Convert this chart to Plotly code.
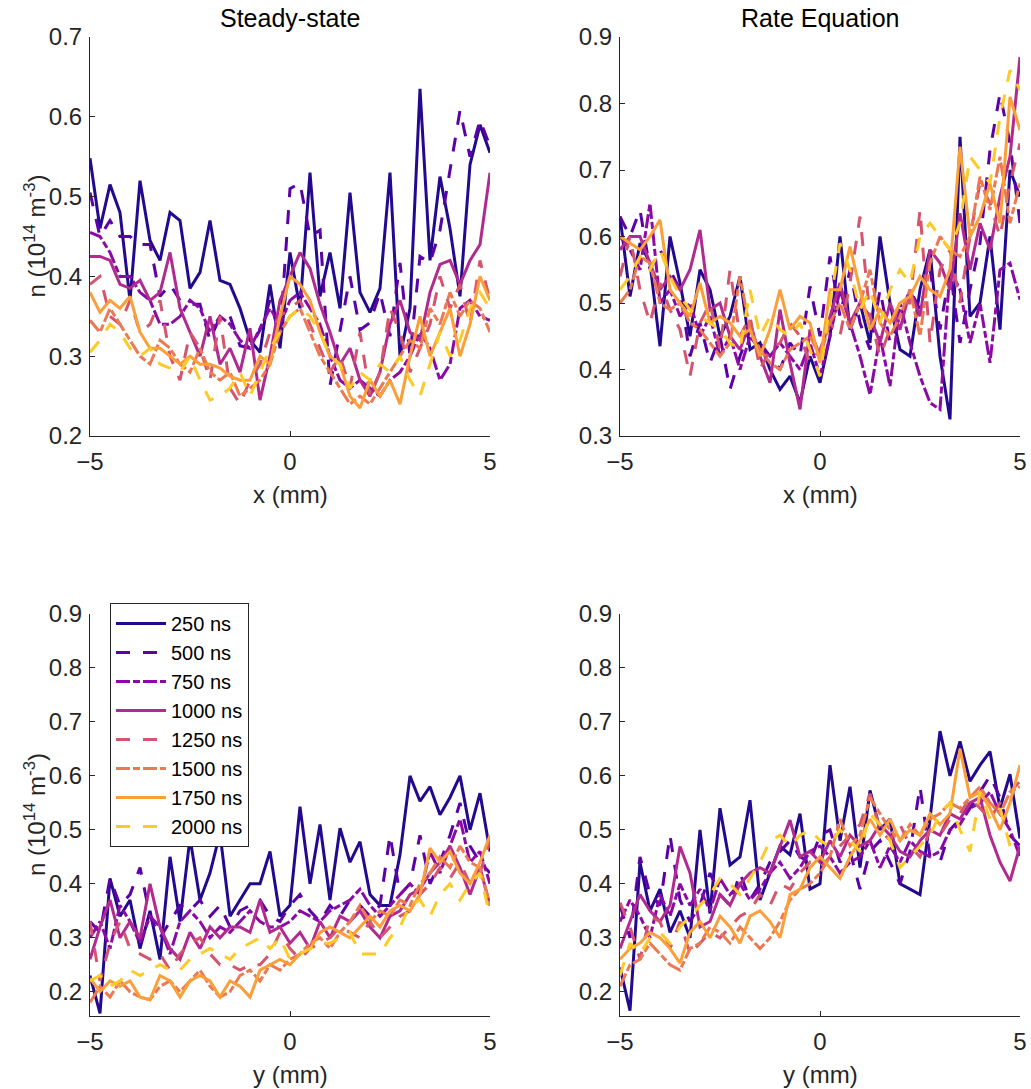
import plotly.graph_objects as go

# ---------------- data ----------------
pos = [-5 + 0.25 * i for i in range(41)]
labels = ["250 ns", "500 ns", "750 ns", "1000 ns", "1250 ns", "1500 ns", "1750 ns", "2000 ns"]
colors = ["#23098e", "#5c01a6", "#8b0aa5", "#b12a90", "#d5546e", "#ed7953", "#fb9f3a", "#fdca26"]
dashes = ["solid", "14px,13px", "14px,3px,7px,3px", "solid", "14px,13px", "14px,3px,7px,3px", "solid", "14px,13px"]

# Steady-state, x profile
ss_x_250 = [0.548, 0.46, 0.515, 0.48, 0.37, 0.52, 0.445, 0.42, 0.48, 0.47, 0.385, 0.405, 0.47, 0.395, 0.39, 0.36, 0.32, 0.305, 0.39, 0.31, 0.43, 0.36, 0.53, 0.375, 0.43, 0.36, 0.505, 0.38, 0.355, 0.385, 0.53, 0.30, 0.36, 0.635, 0.42, 0.525, 0.46, 0.375, 0.54, 0.59, 0.555]
ss_x_500 = [0.505, 0.45, 0.47, 0.45, 0.45, 0.44, 0.44, 0.375, 0.39, 0.37, 0.365, 0.365, 0.32, 0.35, 0.35, 0.313, 0.31, 0.333, 0.37, 0.325, 0.51, 0.517, 0.45, 0.458, 0.263, 0.333, 0.40, 0.333, 0.342, 0.38, 0.325, 0.417, 0.30, 0.425, 0.417, 0.458, 0.534, 0.608, 0.55, 0.596, 0.563]
ss_x_750 = [0.455, 0.45, 0.43, 0.40, 0.40, 0.38, 0.37, 0.34, 0.34, 0.35, 0.37, 0.36, 0.33, 0.35, 0.34, 0.32, 0.31, 0.335, 0.36, 0.34, 0.37, 0.38, 0.36, 0.34, 0.30, 0.27, 0.26, 0.27, 0.26, 0.25, 0.27, 0.28, 0.30, 0.33, 0.31, 0.27, 0.29, 0.36, 0.37, 0.35, 0.345]
ss_x_1000 = [0.425, 0.425, 0.42, 0.39, 0.385, 0.395, 0.37, 0.38, 0.43, 0.36, 0.33, 0.30, 0.35, 0.29, 0.31, 0.28, 0.335, 0.245, 0.30, 0.37, 0.40, 0.43, 0.41, 0.365, 0.33, 0.29, 0.31, 0.27, 0.25, 0.28, 0.34, 0.37, 0.33, 0.32, 0.38, 0.415, 0.42, 0.39, 0.42, 0.44, 0.53]
ss_x_1250 = [0.39, 0.40, 0.35, 0.34, 0.37, 0.33, 0.34, 0.37, 0.30, 0.27, 0.33, 0.31, 0.27, 0.35, 0.26, 0.24, 0.27, 0.29, 0.33, 0.35, 0.36, 0.37, 0.34, 0.31, 0.28, 0.30, 0.26, 0.33, 0.25, 0.28, 0.36, 0.33, 0.28, 0.31, 0.34, 0.40, 0.36, 0.39, 0.34, 0.42, 0.37]
ss_x_1500 = [0.345, 0.33, 0.36, 0.34, 0.32, 0.30, 0.29, 0.32, 0.31, 0.29, 0.28, 0.31, 0.28, 0.27, 0.28, 0.25, 0.26, 0.27, 0.29, 0.33, 0.35, 0.36, 0.33, 0.30, 0.28, 0.26, 0.24, 0.25, 0.24, 0.26, 0.28, 0.30, 0.32, 0.31, 0.36, 0.34, 0.38, 0.35, 0.37, 0.36, 0.33]
ss_x_1750 = [0.38, 0.355, 0.37, 0.36, 0.375, 0.33, 0.31, 0.31, 0.30, 0.29, 0.30, 0.29, 0.29, 0.285, 0.275, 0.27, 0.27, 0.30, 0.29, 0.35, 0.40, 0.39, 0.37, 0.33, 0.30, 0.29, 0.25, 0.235, 0.27, 0.25, 0.27, 0.24, 0.30, 0.35, 0.30, 0.33, 0.36, 0.30, 0.34, 0.40, 0.37]
ss_x_2000 = [0.305, 0.32, 0.34, 0.33, 0.31, 0.30, 0.31, 0.29, 0.285, 0.28, 0.30, 0.27, 0.245, 0.25, 0.26, 0.28, 0.25, 0.28, 0.31, 0.33, 0.35, 0.36, 0.35, 0.33, 0.30, 0.29, 0.26, 0.28, 0.27, 0.29, 0.28, 0.30, 0.27, 0.25, 0.29, 0.33, 0.30, 0.32, 0.36, 0.38, 0.36]

# Rate equation, x profile
re_x_250 = [0.63, 0.51, 0.59, 0.56, 0.435, 0.60, 0.53, 0.45, 0.55, 0.52, 0.45, 0.48, 0.54, 0.43, 0.44, 0.40, 0.37, 0.39, 0.35, 0.42, 0.38, 0.45, 0.60, 0.46, 0.50, 0.44, 0.60, 0.50, 0.43, 0.42, 0.52, 0.58, 0.42, 0.325, 0.75, 0.48, 0.50, 0.60, 0.46, 0.70, 0.66]
re_x_500 = [0.63, 0.60, 0.64, 0.55, 0.58, 0.55, 0.52, 0.42, 0.47, 0.41, 0.45, 0.37, 0.42, 0.46, 0.44, 0.42, 0.40, 0.44, 0.42, 0.525, 0.45, 0.57, 0.48, 0.55, 0.47, 0.43, 0.52, 0.44, 0.48, 0.52, 0.49, 0.55, 0.46, 0.55, 0.44, 0.52, 0.59, 0.73, 0.815, 0.74, 0.62]
re_x_750 = [0.60, 0.58, 0.55, 0.65, 0.50, 0.52, 0.48, 0.50, 0.45, 0.48, 0.42, 0.45, 0.40, 0.45, 0.43, 0.42, 0.44, 0.42, 0.40, 0.44, 0.39, 0.45, 0.52, 0.47, 0.42, 0.362, 0.45, 0.375, 0.50, 0.44, 0.39, 0.35, 0.34, 0.55, 0.52, 0.44, 0.50, 0.41, 0.55, 0.56, 0.505]
re_x_1000 = [0.58, 0.60, 0.60, 0.56, 0.52, 0.54, 0.52, 0.55, 0.61, 0.49, 0.50, 0.45, 0.43, 0.47, 0.42, 0.38, 0.49, 0.41, 0.34, 0.46, 0.42, 0.48, 0.53, 0.47, 0.50, 0.48, 0.44, 0.50, 0.46, 0.52, 0.48, 0.58, 0.56, 0.52, 0.635, 0.55, 0.62, 0.58, 0.66, 0.72, 0.87]
re_x_1250 = [0.54, 0.60, 0.52, 0.47, 0.53, 0.49, 0.46, 0.39, 0.47, 0.50, 0.43, 0.55, 0.45, 0.48, 0.40, 0.43, 0.44, 0.47, 0.45, 0.41, 0.43, 0.47, 0.45, 0.53, 0.63, 0.48, 0.42, 0.46, 0.50, 0.50, 0.64, 0.44, 0.55, 0.58, 0.50, 0.60, 0.68, 0.65, 0.60, 0.68, 0.74]
re_x_1500 = [0.50, 0.52, 0.57, 0.56, 0.50, 0.49, 0.50, 0.47, 0.46, 0.44, 0.42, 0.44, 0.54, 0.46, 0.43, 0.41, 0.40, 0.43, 0.44, 0.45, 0.42, 0.47, 0.50, 0.46, 0.50, 0.55, 0.47, 0.45, 0.48, 0.52, 0.45, 0.56, 0.60, 0.58, 0.57, 0.60, 0.69, 0.64, 0.72, 0.62, 0.68]
re_x_1750 = [0.60, 0.59, 0.58, 0.60, 0.625, 0.52, 0.50, 0.48, 0.53, 0.47, 0.48, 0.47, 0.45, 0.46, 0.42, 0.46, 0.52, 0.46, 0.48, 0.47, 0.41, 0.52, 0.52, 0.585, 0.52, 0.46, 0.49, 0.47, 0.50, 0.51, 0.54, 0.52, 0.51, 0.55, 0.735, 0.60, 0.63, 0.68, 0.62, 0.81, 0.76]
re_x_2000 = [0.52, 0.54, 0.57, 0.55, 0.58, 0.54, 0.51, 0.49, 0.48, 0.47, 0.46, 0.44, 0.43, 0.52, 0.45, 0.48, 0.46, 0.45, 0.47, 0.43, 0.39, 0.50, 0.59, 0.55, 0.49, 0.52, 0.47, 0.52, 0.55, 0.53, 0.60, 0.62, 0.60, 0.58, 0.62, 0.72, 0.70, 0.68, 0.78, 0.85, 0.82]

# Steady-state, y profile
ss_y_250 = [0.23, 0.16, 0.41, 0.34, 0.37, 0.28, 0.35, 0.26, 0.45, 0.33, 0.485, 0.37, 0.42, 0.494, 0.34, 0.37, 0.40, 0.40, 0.46, 0.34, 0.36, 0.543, 0.40, 0.51, 0.37, 0.503, 0.44, 0.478, 0.38, 0.36, 0.36, 0.454, 0.60, 0.553, 0.58, 0.528, 0.56, 0.60, 0.50, 0.568, 0.46]
ss_y_500 = [0.33, 0.31, 0.41, 0.36, 0.38, 0.43, 0.34, 0.30, 0.33, 0.36, 0.35, 0.37, 0.34, 0.36, 0.32, 0.35, 0.36, 0.37, 0.34, 0.33, 0.36, 0.38, 0.35, 0.33, 0.36, 0.34, 0.37, 0.36, 0.34, 0.36, 0.49, 0.38, 0.40, 0.49, 0.40, 0.44, 0.49, 0.55, 0.47, 0.44, 0.42]
ss_y_750 = [0.30, 0.33, 0.28, 0.36, 0.33, 0.29, 0.34, 0.32, 0.27, 0.33, 0.35, 0.33, 0.30, 0.32, 0.31, 0.33, 0.35, 0.33, 0.32, 0.32, 0.33, 0.35, 0.34, 0.33, 0.35, 0.36, 0.37, 0.39, 0.36, 0.34, 0.36, 0.38, 0.40, 0.38, 0.46, 0.42, 0.47, 0.52, 0.44, 0.46, 0.40]
ss_y_1000 = [0.26, 0.32, 0.37, 0.30, 0.33, 0.30, 0.40, 0.32, 0.28, 0.26, 0.31, 0.28, 0.32, 0.30, 0.32, 0.32, 0.31, 0.37, 0.31, 0.32, 0.29, 0.31, 0.28, 0.33, 0.30, 0.34, 0.33, 0.35, 0.32, 0.30, 0.34, 0.35, 0.38, 0.39, 0.42, 0.44, 0.47, 0.43, 0.38, 0.43, 0.36]
ss_y_1250 = [0.33, 0.22, 0.29, 0.33, 0.28, 0.27, 0.26, 0.27, 0.24, 0.27, 0.29, 0.30, 0.27, 0.25, 0.25, 0.24, 0.25, 0.25, 0.27, 0.31, 0.28, 0.26, 0.28, 0.29, 0.30, 0.32, 0.31, 0.30, 0.33, 0.30, 0.32, 0.34, 0.35, 0.38, 0.40, 0.43, 0.41, 0.44, 0.40, 0.42, 0.48]
ss_y_1500 = [0.18, 0.21, 0.19, 0.22, 0.20, 0.19, 0.185, 0.21, 0.22, 0.20, 0.22, 0.24, 0.21, 0.19, 0.20, 0.23, 0.24, 0.22, 0.25, 0.24, 0.26, 0.27, 0.29, 0.30, 0.28, 0.31, 0.33, 0.36, 0.33, 0.35, 0.34, 0.37, 0.36, 0.40, 0.42, 0.45, 0.43, 0.47, 0.44, 0.43, 0.36]
ss_y_1750 = [0.225, 0.20, 0.22, 0.21, 0.22, 0.19, 0.185, 0.23, 0.22, 0.19, 0.22, 0.23, 0.22, 0.19, 0.22, 0.21, 0.19, 0.24, 0.25, 0.26, 0.25, 0.27, 0.28, 0.31, 0.32, 0.31, 0.30, 0.32, 0.34, 0.32, 0.35, 0.36, 0.35, 0.38, 0.466, 0.44, 0.46, 0.42, 0.40, 0.44, 0.49]
ss_y_2000 = [0.22, 0.23, 0.21, 0.22, 0.24, 0.23, 0.24, 0.25, 0.24, 0.24, 0.26, 0.27, 0.28, 0.27, 0.26, 0.28, 0.29, 0.30, 0.28, 0.30, 0.26, 0.27, 0.28, 0.29, 0.29, 0.30, 0.31, 0.27, 0.27, 0.27, 0.30, 0.32, 0.36, 0.37, 0.34, 0.38, 0.40, 0.37, 0.40, 0.42, 0.34]

# Rate equation, y profile
re_y_250 = [0.245, 0.165, 0.44, 0.35, 0.39, 0.31, 0.35, 0.30, 0.50, 0.345, 0.54, 0.435, 0.45, 0.555, 0.37, 0.42, 0.47, 0.454, 0.53, 0.39, 0.40, 0.62, 0.48, 0.58, 0.43, 0.573, 0.50, 0.52, 0.40, 0.39, 0.38, 0.52, 0.683, 0.60, 0.664, 0.59, 0.62, 0.645, 0.54, 0.603, 0.484]
re_y_500 = [0.36, 0.30, 0.45, 0.38, 0.36, 0.49, 0.37, 0.33, 0.36, 0.42, 0.38, 0.36, 0.42, 0.37, 0.40, 0.44, 0.46, 0.48, 0.45, 0.44, 0.49, 0.50, 0.44, 0.46, 0.39, 0.46, 0.48, 0.44, 0.40, 0.46, 0.58, 0.45, 0.44, 0.50, 0.52, 0.54, 0.57, 0.60, 0.56, 0.49, 0.47]
re_y_750 = [0.33, 0.37, 0.34, 0.30, 0.38, 0.34, 0.40, 0.36, 0.39, 0.35, 0.41, 0.38, 0.40, 0.37, 0.39, 0.42, 0.44, 0.41, 0.43, 0.46, 0.47, 0.45, 0.42, 0.44, 0.45, 0.48, 0.43, 0.47, 0.44, 0.48, 0.46, 0.45, 0.46, 0.50, 0.51, 0.54, 0.55, 0.57, 0.53, 0.50, 0.45]
re_y_1000 = [0.28, 0.33, 0.38, 0.35, 0.33, 0.36, 0.469, 0.42, 0.32, 0.33, 0.38, 0.36, 0.40, 0.42, 0.43, 0.42, 0.47, 0.518, 0.45, 0.46, 0.44, 0.48, 0.45, 0.49, 0.47, 0.48, 0.51, 0.49, 0.46, 0.45, 0.48, 0.50, 0.49, 0.53, 0.52, 0.55, 0.56, 0.49, 0.44, 0.405, 0.47]
re_y_1250 = [0.365, 0.32, 0.26, 0.34, 0.33, 0.28, 0.33, 0.27, 0.29, 0.31, 0.30, 0.32, 0.34, 0.35, 0.38, 0.36, 0.40, 0.39, 0.42, 0.44, 0.43, 0.45, 0.47, 0.49, 0.51, 0.567, 0.50, 0.48, 0.51, 0.47, 0.45, 0.50, 0.49, 0.52, 0.53, 0.56, 0.54, 0.52, 0.55, 0.57, 0.59]
re_y_1500 = [0.21, 0.25, 0.26, 0.29, 0.27, 0.25, 0.24, 0.28, 0.29, 0.32, 0.31, 0.29, 0.32, 0.30, 0.28, 0.30, 0.33, 0.37, 0.39, 0.40, 0.42, 0.45, 0.52, 0.47, 0.49, 0.56, 0.53, 0.50, 0.48, 0.51, 0.49, 0.52, 0.53, 0.55, 0.54, 0.56, 0.58, 0.55, 0.53, 0.57, 0.58]
re_y_1750 = [0.26, 0.28, 0.29, 0.31, 0.30, 0.28, 0.253, 0.31, 0.33, 0.30, 0.34, 0.32, 0.29, 0.34, 0.35, 0.33, 0.30, 0.38, 0.39, 0.43, 0.45, 0.43, 0.41, 0.45, 0.48, 0.52, 0.49, 0.52, 0.48, 0.50, 0.49, 0.53, 0.51, 0.53, 0.65, 0.56, 0.57, 0.54, 0.50, 0.55, 0.62]
re_y_2000 = [0.23, 0.29, 0.27, 0.30, 0.31, 0.29, 0.32, 0.34, 0.36, 0.38, 0.41, 0.40, 0.38, 0.41, 0.44, 0.48, 0.49, 0.47, 0.49, 0.50, 0.48, 0.47, 0.50, 0.48, 0.46, 0.53, 0.51, 0.48, 0.43, 0.45, 0.47, 0.49, 0.53, 0.55, 0.50, 0.46, 0.57, 0.52, 0.54, 0.47, 0.46]

panels = [
    [ss_x_250, ss_x_500, ss_x_750, ss_x_1000, ss_x_1250, ss_x_1500, ss_x_1750, ss_x_2000],
    [re_x_250, re_x_500, re_x_750, re_x_1000, re_x_1250, re_x_1500, re_x_1750, re_x_2000],
    [ss_y_250, ss_y_500, ss_y_750, ss_y_1000, ss_y_1250, ss_y_1500, ss_y_1750, ss_y_2000],
    [re_y_250, re_y_500, re_y_750, re_y_1000, re_y_1250, re_y_1500, re_y_1750, re_y_2000],
]
panel_titles = ["Steady-state", "Rate Equation"]
xtitles = ["x (mm)", "x (mm)", "y (mm)", "y (mm)"]
ytitle = "n (10<sup>14</sup> m<sup>-3</sup>)"
yticks = [[0.2, 0.3, 0.4, 0.5, 0.6, 0.7],
          [0.3, 0.4, 0.5, 0.6, 0.7, 0.8, 0.9],
          [0.2, 0.3, 0.4, 0.5, 0.6, 0.7, 0.8, 0.9],
          [0.2, 0.3, 0.4, 0.5, 0.6, 0.7, 0.8, 0.9]]
yranges = [[0.2, 0.7], [0.3, 0.9], [0.155, 0.9], [0.155, 0.9]]

# ---------------- figure ----------------
W, H = 1031, 1089
fig = go.Figure()
axis_ids = ["", "2", "3", "4"]
for p, series in enumerate(panels):
    for i, vals in enumerate(series):
        fig.add_trace(go.Scatter(
            x=pos, y=vals, mode="lines", name=labels[i],
            line=dict(color=colors[i], width=3, dash=dashes[i]),
            xaxis="x" + axis_ids[p], yaxis="y" + axis_ids[p],
            showlegend=(p == 2), hoverinfo="skip",
        ))

def px_x(a, b):
    return [a / W, b / W]

def px_y(top, bottom):
    return [1 - bottom / H, 1 - top / H]

FONT = "Liberation Sans, Arial, sans-serif"
TXT = "#262626"
FS = 24
axis_common = dict(
    showline=True, linecolor=TXT, linewidth=1, ticks="inside", ticklen=5,
    tickcolor=TXT, showgrid=False, zeroline=False, mirror=False, automargin=False,
    tickfont=dict(size=FS, color=TXT, family=FONT),
)
xpix = [(90, 490), (620, 1020), (90, 490), (620, 1020)]
ypix = [(37, 436), (37, 436), (614, 1016), (614, 1016)]

layout = dict(
    width=W, height=H, margin=dict(l=0, r=0, t=0, b=0, autoexpand=False),
    paper_bgcolor="white", plot_bgcolor="white",
    font=dict(family=FONT, color=TXT, size=FS),
    legend=dict(
        x=110 / W, y=1 - 603 / H, xanchor="left", yanchor="top",
        bgcolor="white", bordercolor=TXT, borderwidth=1,
        font=dict(size=20, color="black", family=FONT),
        itemwidth=50, tracegroupgap=0,
    ),
)
for p in range(4):
    s = axis_ids[p]
    layout["xaxis" + s] = dict(
        axis_common, domain=px_x(*xpix[p]), range=[-5, 5], tickvals=[-5, 0, 5],
        anchor="y" + s, ticklabelstandoff=4,
    )
    layout["yaxis" + s] = dict(
        axis_common, domain=px_y(*ypix[p]), range=yranges[p], tickvals=yticks[p],
        tickformat=".1f", anchor="x" + s, ticklabelstandoff=2,
    )
fig.update_layout(**layout)

def note(text, xp, yp, angle=0, color=TXT, size=FS):
    fig.add_annotation(text=text, x=xp / W, y=1 - yp / H, xref="paper", yref="paper",
                       showarrow=False, textangle=angle,
                       font=dict(size=size, color=color, family=FONT),
                       xanchor="center", yanchor="middle")

note(panel_titles[0], 290, 18, color="black", size=25)
note(panel_titles[1], 820, 18, color="black", size=25)
for p in range(4):
    cx = (xpix[p][0] + xpix[p][1]) / 2
    note(xtitles[p], cx, ypix[p][1] + 58)
note(ytitle, 35, (37 + 436) / 2, angle=-90)
note(ytitle, 35, (614 + 1016) / 2, angle=-90)

fig.write_html("out.html", config={"displayModeBar": False},
               post_script="document.body.style.margin='0px';")
